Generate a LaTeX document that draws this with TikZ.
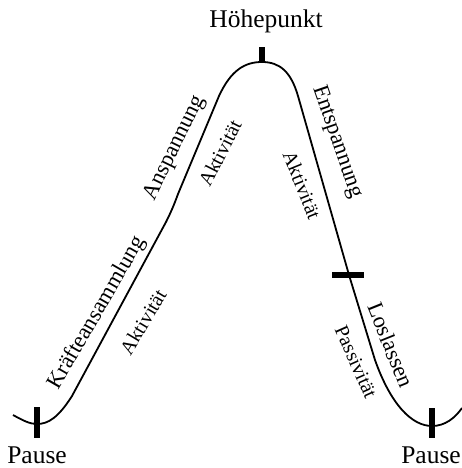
\documentclass[tikz,border=0pt]{standalone}
\usepackage{fontspec}
\setmainfont{Liberation Serif}
\begin{document}
\begin{tikzpicture}[x=1pt,y=-1pt,
  curve/.style={line width=1.8pt},
  tick/.style={line width=6.5pt},
  big/.style={font=\fontsize{25.5}{25.5}\selectfont, inner sep=0pt},
  phase/.style={font=\fontsize{22.5}{22.5}\selectfont, inner sep=0pt},
  sub/.style={font=\fontsize{20}{20}\selectfont, inner sep=0pt}]
\useasboundingbox (0,0) rectangle (461,468);
% curve
\coordinate (s) at (13,415);
\coordinate (pl) at (37,424);
\coordinate (top) at (262,62);
\coordinate (mid) at (349,275);
\coordinate (pr) at (432,426);
\coordinate (e) at (462,408);
\draw[curve] (s) .. controls (24,421) and (30,424) .. (pl)
  .. controls (48,424) and (58,418) .. (72,396)
  -- (166,222) .. controls (171,212) and (174,205) .. (178,194)
  -- (219,96) .. controls (231,70) and (245,62) .. (top)
  .. controls (280,62) and (291,72) .. (298,96)
  -- (mid) -- (375,360)
  .. controls (391,405) and (412,426) .. (pr)
  .. controls (445,426) and (455,418) .. (e);
% ticks
\draw[tick] (pl) ++(0,-17) coordinate (pla) -- ++(0,31);
\draw[tick] (pr) ++(0,-18) coordinate (pra) -- ++(0,30);
\draw[tick] (top) ++(0,1) -- ++(0,-16) coordinate (topa);
\draw[line width=6pt] (mid) ++(-17,0) -- ++(32,0);
% labels
\node[big] (hp) at (266,21) {Höhepunkt};
\node[big] (pauseL) at (37,455) {Pause};
\node[big] (pauseR) at (431,455) {Pause};
\node[phase, rotate=60] (kr) at (97,313) {Kräfteansammlung};
\node[sub, rotate=59] (ak1) at (143,322) {Aktivität};
\node[phase, rotate=64] (an) at (175,148) {Anspannung};
\node[sub, rotate=63] (ak2) at (220,153) {Aktivität};
\node[phase, rotate=-71] (en) at (337,142) {Entspannung};
\node[sub, rotate=-68] (ak3) at (302,185) {Aktivität};
\node[phase, rotate=-68] (lo) at (391,345) {Loslassen};
\node[sub, rotate=-66] (pa) at (356,362) {Passivität};
\end{tikzpicture}
\end{document}
